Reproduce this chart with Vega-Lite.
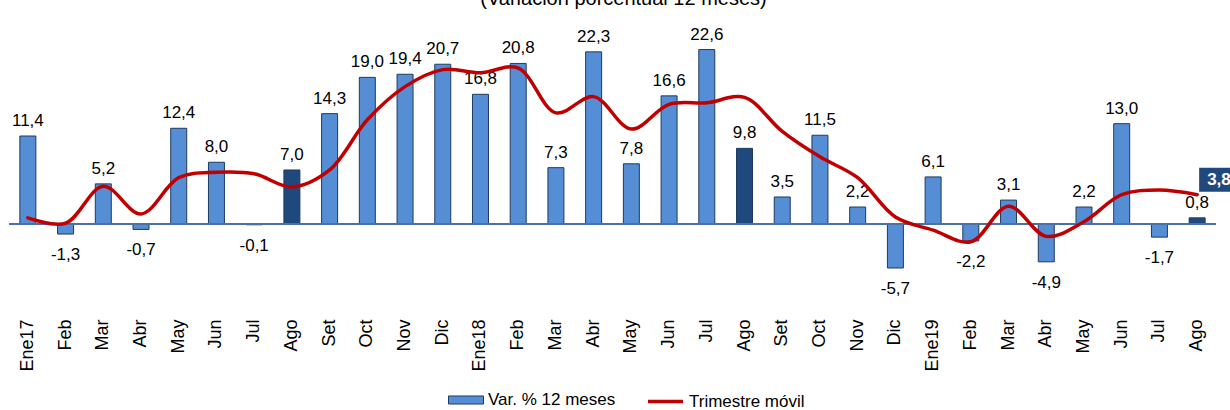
{
  "$schema": "https://vega.github.io/schema/vega-lite/v6.json",
  "autosize": {"type": "none"},
  "padding": {"left": 9, "top": 0, "right": 14, "bottom": 100},
  "width": 1207,
  "height": 310,
  "background": "white",
  "title": {
    "text": "(Variación porcentual 12 meses)",
    "font": "Liberation Sans",
    "fontSize": 20,
    "fontWeight": "normal",
    "color": "black",
    "anchor": "middle",
    "frame": "group",
    "baseline": "alphabetic",
    "offset": 0,
    "dy": 25,
    "dx": 11
  },
  "config": {
    "view": {"stroke": null},
    "locale": {"number": {"decimal": ",", "thousands": ".", "grouping": [3], "currency": ["", ""], "minus": "-"}},
    "font": "Liberation Sans"
  },
  "data": {
    "values": [
      {"fecha": "Ene17", "variacion": 11.4, "trimestre": 0.8},
      {"fecha": "Feb17", "variacion": -1.3, "trimestre": 0.1},
      {"fecha": "Mar17", "variacion": 5.2, "trimestre": 4.9},
      {"fecha": "Abr17", "variacion": -0.7, "trimestre": 1.3},
      {"fecha": "May17", "variacion": 12.4, "trimestre": 6.0},
      {"fecha": "Jun17", "variacion": 8.0, "trimestre": 6.7},
      {"fecha": "Jul17", "variacion": -0.1, "trimestre": 6.5},
      {"fecha": "Ago17", "variacion": 7.0, "trimestre": 4.8},
      {"fecha": "Set17", "variacion": 14.3, "trimestre": 7.0},
      {"fecha": "Oct17", "variacion": 19.0, "trimestre": 13.5},
      {"fecha": "Nov17", "variacion": 19.4, "trimestre": 17.8},
      {"fecha": "Dic17", "variacion": 20.7, "trimestre": 20.0},
      {"fecha": "Ene18", "variacion": 16.8, "trimestre": 19.6},
      {"fecha": "Feb18", "variacion": 20.8, "trimestre": 20.2},
      {"fecha": "Mar18", "variacion": 7.3, "trimestre": 14.4},
      {"fecha": "Abr18", "variacion": 22.3, "trimestre": 16.5},
      {"fecha": "May18", "variacion": 7.8, "trimestre": 12.3},
      {"fecha": "Jun18", "variacion": 16.6, "trimestre": 15.5},
      {"fecha": "Jul18", "variacion": 22.6, "trimestre": 15.7},
      {"fecha": "Ago18", "variacion": 9.8, "trimestre": 16.4},
      {"fecha": "Set18", "variacion": 3.5, "trimestre": 12.0},
      {"fecha": "Oct18", "variacion": 11.5, "trimestre": 8.7},
      {"fecha": "Nov18", "variacion": 2.2, "trimestre": 6.0},
      {"fecha": "Dic18", "variacion": -5.7, "trimestre": 0.9},
      {"fecha": "Ene19", "variacion": 6.1, "trimestre": -0.8},
      {"fecha": "Feb19", "variacion": -2.2, "trimestre": -2.3},
      {"fecha": "Mar19", "variacion": 3.1, "trimestre": 2.3},
      {"fecha": "Abr19", "variacion": -4.9, "trimestre": -1.6},
      {"fecha": "May19", "variacion": 2.2, "trimestre": 0.3},
      {"fecha": "Jun19", "variacion": 13.0, "trimestre": 3.8},
      {"fecha": "Jul19", "variacion": -1.7, "trimestre": 4.4},
      {"fecha": "Ago19", "variacion": 0.8, "trimestre": 3.8}
    ]
  },
  "encoding": {
    "x": {
      "field": "fecha",
      "type": "nominal",
      "sort": null,
      "scale": {"paddingInner": 0.576, "paddingOuter": 0.288},
      "axis": {
        "title": null,
        "domain": false,
        "ticks": false,
        "labelAngle": -90,
        "labelPadding": 9,
        "labelFontSize": 18,
        "labelFont": "Liberation Sans",
        "labelColor": "black",
        "labelExpr": "slice(datum.value,0,3) === 'Ene' ? datum.value : slice(datum.value,0,3)"
      }
    }
  },
  "layer": [
    {
      "mark": {"type": "bar", "stroke": "#1F3A60", "strokeWidth": 1},
      "encoding": {
        "y": {"field": "variacion", "type": "quantitative", "scale": {"domain": [-11.14, 29.02], "nice": false, "zero": false}, "axis": null},
        "fill": {
          "condition": {"test": "slice(datum.fecha,0,3) === 'Ago'", "value": "#1F497D"},
          "datum": "Var. % 12 meses",
          "scale": {"domain": ["Var. % 12 meses"], "range": ["#558ED5"]},
          "legend": {
            "title": null,
            "orient": "none",
            "legendX": 439,
            "legendY": 382,
            "symbolType": "M-1,-0.23H1V0.23H-1Z",
            "symbolSize": 1225,
            "symbolStrokeColor": "#1F3A60",
            "symbolStrokeWidth": 1,
            "symbolOpacity": 1,
            "labelFontSize": 17,
            "labelFont": "Liberation Sans",
            "labelColor": "black",
            "labelOffset": 4,
            "labelLimit": 300
          }
        }
      }
    },
    {
      "mark": {"type": "rule", "color": "#4A72A8", "strokeWidth": 1.5},
      "encoding": {"y": {"datum": 0}, "x": null}
    },
    {
      "transform": [{"filter": "datum.variacion >= 0"}],
      "mark": {"type": "text", "baseline": "alphabetic", "dy": -10, "fontSize": 17, "font": "Liberation Sans", "color": "black"},
      "encoding": {
        "y": {"field": "variacion", "type": "quantitative"},
        "text": {"field": "variacion", "type": "quantitative", "format": ".1f"}
      }
    },
    {
      "transform": [{"filter": "datum.variacion < 0"}],
      "mark": {"type": "text", "baseline": "alphabetic", "dy": 26, "fontSize": 17, "font": "Liberation Sans", "color": "black"},
      "encoding": {
        "y": {"field": "variacion", "type": "quantitative"},
        "text": {"field": "variacion", "type": "quantitative", "format": ".1f"}
      }
    },
    {
      "mark": {"type": "line", "interpolate": "catmull-rom", "strokeWidth": 3.5, "strokeCap": "round"},
      "encoding": {
        "y": {"field": "trimestre", "type": "quantitative"},
        "stroke": {
          "datum": "Trimestre móvil",
          "scale": {"domain": ["Trimestre móvil"], "range": ["#C00000"]},
          "legend": {
            "title": null,
            "orient": "none",
            "legendX": 637,
            "legendY": 382,
            "symbolType": "stroke",
            "symbolSize": 1225,
            "symbolStrokeWidth": 3.5,
            "labelFontSize": 17,
            "labelFont": "Liberation Sans",
            "labelColor": "black",
            "labelOffset": 4,
            "labelLimit": 300
          }
        }
      }
    },
    {
      "transform": [{"filter": "datum.fecha === 'Ago19'"}],
      "mark": {"type": "point", "shape": "M-1,-0.52H1V0.52H-1Z", "size": 2116, "filled": true, "fill": "#1F497D", "stroke": null, "opacity": 1, "xOffset": 25, "yOffset": -15},
      "encoding": {
        "y": {"field": "trimestre", "type": "quantitative"}
      }
    },
    {
      "transform": [{"filter": "datum.fecha === 'Ago19'"}],
      "mark": {"type": "text", "align": "left", "baseline": "middle", "dx": 10, "dy": -15, "fontSize": 17, "fontWeight": "bold", "font": "Liberation Sans", "color": "white"},
      "encoding": {
        "y": {"field": "trimestre", "type": "quantitative"},
        "text": {"field": "trimestre", "type": "quantitative", "format": ".1f"}
      }
    }
  ]
}
